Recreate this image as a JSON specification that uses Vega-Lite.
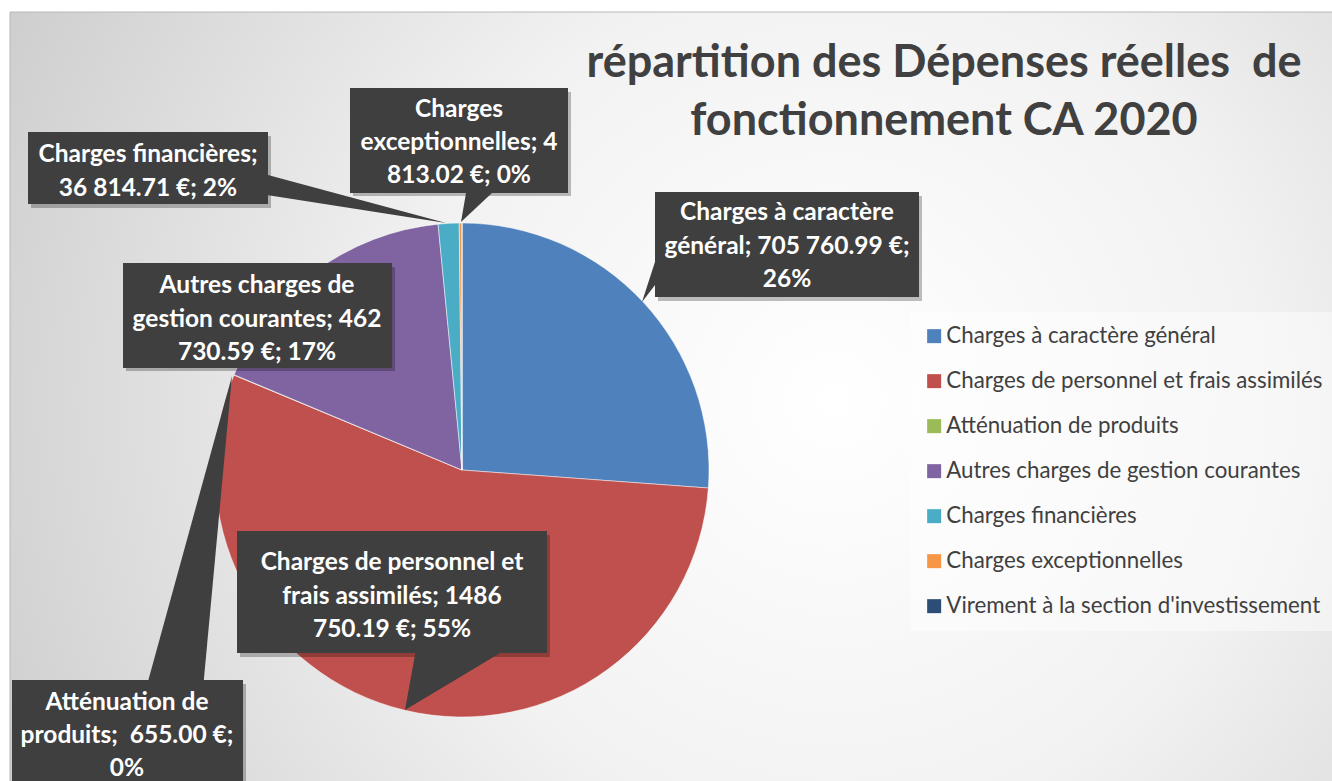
{
  "$schema": "https://vega.github.io/schema/vega-lite/v6.json",
  "width": 1332,
  "height": 781,
  "padding": 0,
  "autosize": {"type": "none"},
  "background": "#ffffff",
  "config": {
    "view": {"stroke": null},
    "font": "Lato",
    "legend": {
      "orient": "none",
      "legendX": 910,
      "legendY": 312,
      "padding": 13,
      "fillColor": "rgba(255,255,255,0.45)",
      "symbolType": "square",
      "symbolSize": 196,
      "symbolStrokeWidth": 0,
      "labelFont": "Lato",
      "labelFontSize": 22.3,
      "labelColor": "#404040",
      "labelOffset": 1,
      "labelLimit": 600,
      "rowPadding": 22
    }
  },
  "data": {
    "values": [
      {"poste": "Charges à caractère général", "montant": 705760.99, "ordre": 1, "etiquette": ["Charges à caractère", "général; 705 760.99 €;", "26%"]},
      {"poste": "Charges de personnel et frais assimilés", "montant": 1486750.19, "ordre": 2, "etiquette": ["Charges de personnel et", "frais assimilés; 1486", "750.19 €; 55%"]},
      {"poste": "Atténuation de produits", "montant": 655.00, "ordre": 3, "etiquette": ["Atténuation de", "produits; \u00a0655.00 €;", "0%"]},
      {"poste": "Autres charges de gestion courantes", "montant": 462730.59, "ordre": 4, "etiquette": ["Autres charges de", "gestion courantes; 462", "730.59 €; 17%"]},
      {"poste": "Charges financières", "montant": 36814.71, "ordre": 5, "etiquette": ["Charges financières;", "36 814.71 €; 2%"]},
      {"poste": "Charges exceptionnelles", "montant": 4813.02, "ordre": 6, "etiquette": ["Charges", "exceptionnelles; 4", "813.02 €; 0%"]},
      {"poste": "Virement à la section d'investissement", "montant": 0, "ordre": 7, "etiquette": [""]}
    ]
  },
  "layer": [
    {
      "data": {"values": [{}]},
      "mark": {
        "type": "rect",
        "stroke": "#b8b8b8",
        "strokeWidth": 1,
        "fill": {
          "gradient": "radial",
          "x1": 0.62, "y1": 0.5, "r1": 0,
          "x2": 0.62, "y2": 0.5, "r2": 0.8,
          "stops": [
            {"offset": 0, "color": "#ffffff"},
            {"offset": 0.4, "color": "#f2f2f2"},
            {"offset": 1, "color": "#c3c3c3"}
          ]
        }
      },
      "encoding": {
        "x": {"datum": 10, "type": "quantitative", "scale": {"domain": [0, 1332], "nice": false, "zero": false}, "axis": null},
        "x2": {"datum": 1340},
        "y": {"datum": 12, "type": "quantitative", "scale": {"domain": [0, 781], "nice": false, "zero": false, "reverse": true}, "axis": null},
        "y2": {"datum": 790}
      }
    },
    {
      "mark": {"type": "arc", "outerRadius": 247, "stroke": "#ffffff", "strokeWidth": 0.7, "strokeOpacity": 0.7},
      "encoding": {
        "x": {"datum": 462, "type": "quantitative", "scale": {"domain": [0, 1332], "nice": false, "zero": false}, "axis": null},
        "y": {"datum": 470, "type": "quantitative", "scale": {"domain": [0, 781], "nice": false, "zero": false, "reverse": true}, "axis": null},
        "theta": {"field": "montant", "type": "quantitative", "stack": true},
        "order": {"field": "ordre", "type": "quantitative"},
        "color": {
          "field": "poste",
          "type": "nominal",
          "scale": {
            "domain": ["Charges à caractère général", "Charges de personnel et frais assimilés", "Atténuation de produits", "Autres charges de gestion courantes", "Charges financières", "Charges exceptionnelles", "Virement à la section d'investissement"],
            "range": ["#4f81bd", "#c0504d", "#9bbb59", "#8064a2", "#4bacc6", "#f79646", "#2c4d75"]
          },
          "legend": {"title": null}
        }
      }
    },
    {
      "data": {"values": [{}]},
      "mark": {"type": "text", "text": ["répartition des Dépenses réelles \u00a0de", "fonctionnement CA 2020"], "fontSize": 45, "fontWeight": "bold", "color": "#404040", "lineHeight": 58, "align": "center", "baseline": "middle"},
      "encoding": {
        "x": {"datum": 944, "type": "quantitative", "scale": {"domain": [0, 1332], "nice": false, "zero": false}, "axis": null},
        "y": {"datum": 63, "type": "quantitative", "scale": {"domain": [0, 781], "nice": false, "zero": false, "reverse": true}, "axis": null}
      }
    },
    {
      "transform": [{"filter": "datum.poste === 'Charges à caractère général'"}],
      "layer": [
        {"mark": {"type": "rect", "fill": "#000000", "opacity": 0.25}, "encoding": {"x": {"datum": 658, "type": "quantitative"}, "x2": {"datum": 922}, "y": {"datum": 196, "type": "quantitative"}, "y2": {"datum": 301}}},
        {"mark": {"type": "arc", "fill": "#3f3f3f", "innerRadius": 0, "outerRadius": 48, "theta": 0.314, "theta2": 0.653}, "encoding": {"x": {"datum": 642, "type": "quantitative"}, "y": {"datum": 302, "type": "quantitative"}}},
        {"mark": {"type": "rect", "fill": "#3f3f3f"}, "encoding": {"x": {"datum": 655, "type": "quantitative"}, "x2": {"datum": 919}, "y": {"datum": 192, "type": "quantitative"}, "y2": {"datum": 297}}},
        {"mark": {"type": "text", "color": "#ffffff", "fontSize": 24.5, "fontWeight": "bold", "lineHeight": 33.5, "align": "center", "baseline": "middle"}, "encoding": {"x": {"datum": 787, "type": "quantitative"}, "y": {"datum": 213, "type": "quantitative"}, "text": {"field": "etiquette"}}}
      ]
    },
    {
      "transform": [{"filter": "datum.poste === 'Charges de personnel et frais assimilés'"}],
      "layer": [
        {"mark": {"type": "rect", "fill": "#000000", "opacity": 0.25}, "encoding": {"x": {"datum": 240, "type": "quantitative"}, "x2": {"datum": 550}, "y": {"datum": 535, "type": "quantitative"}, "y2": {"datum": 657}}},
        {"mark": {"type": "arc", "fill": "#3f3f3f", "innerRadius": 0, "outerRadius": 110, "theta": 0.18, "theta2": 1.031}, "encoding": {"x": {"datum": 405, "type": "quantitative"}, "y": {"datum": 710, "type": "quantitative"}}},
        {"mark": {"type": "rect", "fill": "#3f3f3f"}, "encoding": {"x": {"datum": 237, "type": "quantitative"}, "x2": {"datum": 547}, "y": {"datum": 531, "type": "quantitative"}, "y2": {"datum": 653}}},
        {"mark": {"type": "text", "color": "#ffffff", "fontSize": 24.5, "fontWeight": "bold", "lineHeight": 33.5, "align": "center", "baseline": "middle"}, "encoding": {"x": {"datum": 392, "type": "quantitative"}, "y": {"datum": 563, "type": "quantitative"}, "text": {"field": "etiquette"}}}
      ]
    },
    {
      "transform": [{"filter": "datum.poste === 'Atténuation de produits'"}],
      "layer": [
        {"mark": {"type": "rect", "fill": "#000000", "opacity": 0.25}, "encoding": {"x": {"datum": 15, "type": "quantitative"}, "x2": {"datum": 246}, "y": {"datum": 684, "type": "quantitative"}, "y2": {"datum": 790}}},
        {"mark": {"type": "arc", "fill": "#3f3f3f", "innerRadius": 0, "outerRadius": 330, "theta": 3.234, "theta2": 3.41}, "encoding": {"x": {"datum": 232, "type": "quantitative"}, "y": {"datum": 376, "type": "quantitative"}}},
        {"mark": {"type": "rect", "fill": "#3f3f3f"}, "encoding": {"x": {"datum": 12, "type": "quantitative"}, "x2": {"datum": 243}, "y": {"datum": 680, "type": "quantitative"}, "y2": {"datum": 790}}},
        {"mark": {"type": "text", "color": "#ffffff", "fontSize": 24.5, "fontWeight": "bold", "lineHeight": 33, "align": "center", "baseline": "middle"}, "encoding": {"x": {"datum": 127, "type": "quantitative"}, "y": {"datum": 703, "type": "quantitative"}, "text": {"field": "etiquette"}}}
      ]
    },
    {
      "transform": [{"filter": "datum.poste === 'Autres charges de gestion courantes'"}],
      "layer": [
        {"mark": {"type": "rect", "fill": "#000000", "opacity": 0.25}, "encoding": {"x": {"datum": 126, "type": "quantitative"}, "x2": {"datum": 395}, "y": {"datum": 267, "type": "quantitative"}, "y2": {"datum": 371}}},
        {"mark": {"type": "rect", "fill": "#3f3f3f"}, "encoding": {"x": {"datum": 123, "type": "quantitative"}, "x2": {"datum": 392}, "y": {"datum": 263, "type": "quantitative"}, "y2": {"datum": 368}}},
        {"mark": {"type": "text", "color": "#ffffff", "fontSize": 24.5, "fontWeight": "bold", "lineHeight": 33.5, "align": "center", "baseline": "middle"}, "encoding": {"x": {"datum": 257, "type": "quantitative"}, "y": {"datum": 286, "type": "quantitative"}, "text": {"field": "etiquette"}}}
      ]
    },
    {
      "transform": [{"filter": "datum.poste === 'Charges financières'"}],
      "layer": [
        {"mark": {"type": "rect", "fill": "#000000", "opacity": 0.25}, "encoding": {"x": {"datum": 31, "type": "quantitative"}, "x2": {"datum": 271}, "y": {"datum": 136, "type": "quantitative"}, "y2": {"datum": 208}}},
        {"mark": {"type": "arc", "fill": "#3f3f3f", "innerRadius": 0, "outerRadius": 195, "theta": 4.868, "theta2": 4.976}, "encoding": {"x": {"datum": 446, "type": "quantitative"}, "y": {"datum": 223, "type": "quantitative"}}},
        {"mark": {"type": "rect", "fill": "#3f3f3f"}, "encoding": {"x": {"datum": 28, "type": "quantitative"}, "x2": {"datum": 268}, "y": {"datum": 132, "type": "quantitative"}, "y2": {"datum": 204}}},
        {"mark": {"type": "text", "color": "#ffffff", "fontSize": 24.5, "fontWeight": "bold", "lineHeight": 34, "align": "center", "baseline": "middle"}, "encoding": {"x": {"datum": 148, "type": "quantitative"}, "y": {"datum": 155, "type": "quantitative"}, "text": {"field": "etiquette"}}}
      ]
    },
    {
      "transform": [{"filter": "datum.poste === 'Charges exceptionnelles'"}],
      "layer": [
        {"mark": {"type": "rect", "fill": "#000000", "opacity": 0.25}, "encoding": {"x": {"datum": 353, "type": "quantitative"}, "x2": {"datum": 571}, "y": {"datum": 92, "type": "quantitative"}, "y2": {"datum": 196}}},
        {"mark": {"type": "arc", "fill": "#3f3f3f", "innerRadius": 0, "outerRadius": 50, "theta": 0.171, "theta2": 0.819}, "encoding": {"x": {"datum": 461, "type": "quantitative"}, "y": {"datum": 222, "type": "quantitative"}}},
        {"mark": {"type": "rect", "fill": "#3f3f3f"}, "encoding": {"x": {"datum": 350, "type": "quantitative"}, "x2": {"datum": 568}, "y": {"datum": 88, "type": "quantitative"}, "y2": {"datum": 193}}},
        {"mark": {"type": "text", "color": "#ffffff", "fontSize": 24.5, "fontWeight": "bold", "lineHeight": 33, "align": "center", "baseline": "middle"}, "encoding": {"x": {"datum": 459, "type": "quantitative"}, "y": {"datum": 110, "type": "quantitative"}, "text": {"field": "etiquette"}}}
      ]
    }
  ]
}
